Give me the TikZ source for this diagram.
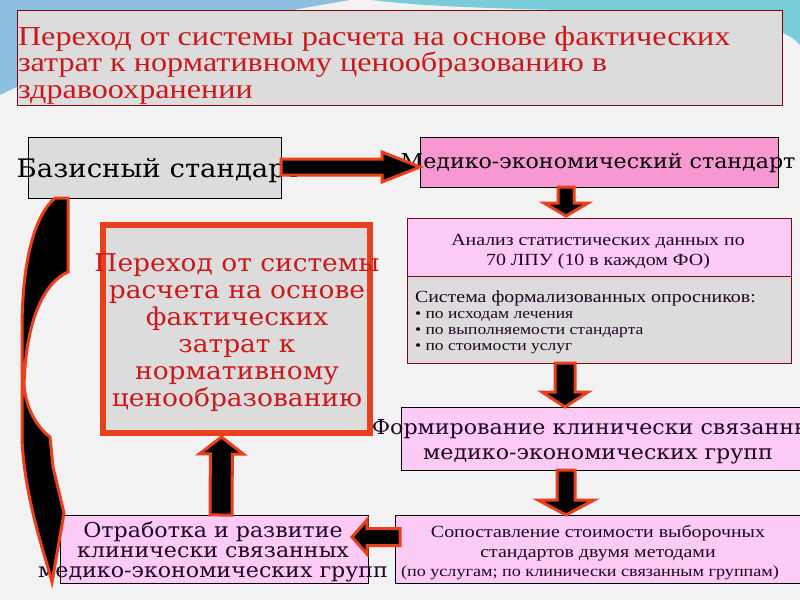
\documentclass[tikz,border=0pt]{standalone}
\usepackage{fontspec}
\setmainfont[FakeStretch=1.17]{Liberation Serif}
\newfontfamily\djs[FakeStretch=1.08]{DejaVu Serif}
\usetikzlibrary{calc}
\definecolor{arrred}{RGB}{232,64,28}
\definecolor{ttlred}{RGB}{204,24,26}
\definecolor{boxgray}{RGB}{220,220,220}
\definecolor{pinkA}{RGB}{247,152,210}
\definecolor{pinkB}{RGB}{251,202,245}
\definecolor{darkred}{RGB}{120,10,20}
\definecolor{inkdark}{RGB}{32,6,34}
\definecolor{bgblue}{RGB}{92,164,212}
\definecolor{bgteal}{RGB}{122,204,216}
\newcommand\fsz[2]{\fontsize{#1}{#2}\selectfont}
% block arrow: start, end, shaft half, head half, head length
\newcommand\blkarrow[5]{%
  \filldraw[blockarr]
    ($#1!#3!90:#2$) --
    ($($#2!#5!#1$)!#3!-90:#1$) --
    ($($#2!#5!#1$)!#4!-90:#1$) --
    #2 --
    ($($#2!#5!#1$)!#4!90:#1$) --
    ($($#2!#5!#1$)!#3!90:#1$) --
    ($#1!#3!-90:#2$) -- cycle;}
\begin{document}
\begin{tikzpicture}[x=1pt,y=-1pt,
  box/.style={draw, line width=0.8pt, inner sep=0pt, outer sep=0pt},
  blockarr/.style={fill=black, draw=arrred, line width=3pt, line join=miter},
  lbl/.style={inner sep=0pt, outer sep=0pt}
]
\useasboundingbox (0,0) rectangle (800,600);
\clip (0,0) rectangle (800,600);
% background
\fill[white!95!black] (0,0) rectangle (800,600);
\fill[bgblue!70!white] (0,0) -- (350,0) .. controls (200,25) and (80,55) .. (0,95) -- cycle;
\fill[bgteal] (372,0) -- (800,0) -- (800,45) .. controls (780,20) and (700,12) .. (560,10) .. controls (470,8) and (410,5) .. (372,0) -- cycle;
% title
\node[box, draw=darkred, fill=boxgray, minimum width=765pt, minimum height=95pt] (title) at (399.5,57.5) {};
\node[lbl, anchor=base west, align=left, text=ttlred, font=\fsz{27.5}{26.5}] (titletext) at (18,98)
  {Переход от системы расчета на основе фактических\\затрат к нормативному ценообразованию в\\здравоохранении};
% boxes
\node[box, fill=boxgray, minimum width=253pt, minimum height=61pt] (bas) at (154.5,167.5) {};
\node[lbl, anchor=base, font=\djs\fsz{25.5}{26}] (bastext) at (159,177) {Базисный стандарт};
\node[box, fill=pinkA, minimum width=358pt, minimum height=50pt] (med) at (599,162) {};
\node[lbl, anchor=base, font=\djs\fsz{20.5}{20.5}] (medtext) at (598,168) {Медико-экономический стандарт};
\node[box, draw=darkred, fill=pinkB, minimum width=384pt, minimum height=58pt] (anatop) at (599,247) {};
\node[box, draw=darkred, fill=boxgray, minimum width=384pt, minimum height=87pt] (anabot) at (599,319.5) {};
\node[lbl, anchor=base, align=center, text=inkdark, font=\fsz{17}{20}] (anatext) at (598,265)
  {Анализ статистических данных по\\70 ЛПУ (10 в каждом ФО)};
\node[lbl, anchor=base west, text=inkdark, font=\fsz{17}{16}] (systext) at (415,302) {Система формализованных опросников:};
\node[lbl, anchor=base west, align=left, text=inkdark, font=\fsz{15}{16}] (bultext) at (415,350)
  {• по исходам лечения\\• по выполняемости стандарта\\• по стоимости услуг};
\node[box, fill=pinkB, minimum width=404pt, minimum height=63pt] (form) at (603,438.5) {};
\node[lbl, anchor=base, align=center, text=inkdark, font=\djs\fsz{20.5}{25}] (formtext) at (598,459)
  {Формирование клинически связанных\\медико-экономических групп};
\node[box, fill=pinkB, minimum width=410pt, minimum height=68pt] (sop) at (600,549) {};
\node[lbl, anchor=base, align=center, text=inkdark, font=\fsz{17}{20}] (soptext) at (598,557)
  {Сопоставление стоимости выборочных\\стандартов двумя методами};
\node[lbl, anchor=base, text=inkdark, font=\fsz{15.5}{16}] (soptext2) at (590,576)
  {(по услугам; по клинически связанным группам)};
\node[box, fill=pinkB, minimum width=308pt, minimum height=68pt] (otr) at (214,549) {};
\node[lbl, anchor=base, align=center, text=inkdark, font=\djs\fsz{20.5}{20}] (otrtext) at (213,577)
  {Отработка и развитие\\клинически связанных\\медико-экономических групп};
\node[draw=arrred, line width=6pt, fill=boxgray, inner sep=0pt, outer sep=0pt, minimum width=267pt, minimum height=208pt] (cen) at (236.5,329) {};
\node[lbl, anchor=base, align=center, text=ttlred, font=\djs\fsz{24.5}{27}] (centext) at (237,406)
  {Переход от системы\\расчета на основе\\фактических\\затрат к\\нормативному\\ценообразованию};
% block arrows
\blkarrow{($(bas.east)+(0,-0.5)$)}{($(med.west)+(0,5)$)}{8pt}{15pt}{38pt}
\blkarrow{($(med.south)+(-33,0)$)}{($(anatop.north)+(-33,-2)$)}{8pt}{22pt}{13pt}
\blkarrow{($(anabot.south)+(-34,0)$)}{($(form.north)+(-38,0)$)}{10pt}{23pt}{15pt}
\blkarrow{($(form.south)+(-37,0)$)}{($(sop.north)+(-34,0)$)}{9pt}{28pt}{15pt}
\blkarrow{($(otr.north)+(7,0)$)}{($(cen.south)+(-15,4)$)}{11pt}{22pt}{17pt}
\blkarrow{($(sop.west)+(5,-12)$)}{($(otr.east)+(-16,-12)$)}{8.5pt}{17pt}{15pt}
% curved arrow
\filldraw[blockarr] (55,198) -- (68,198) -- (68,272)
  .. controls (45,282) and (26,318) .. (24,385)
  .. controls (26,410) and (38,428) .. (50,437)
  -- (53,467) -- (64,513) -- (52,582)
  .. controls (45,555) and (25,500) .. (22,440)
  -- (22,330) .. controls (22,260) and (35,215) .. (55,198) -- cycle;
\end{tikzpicture}
\end{document}
